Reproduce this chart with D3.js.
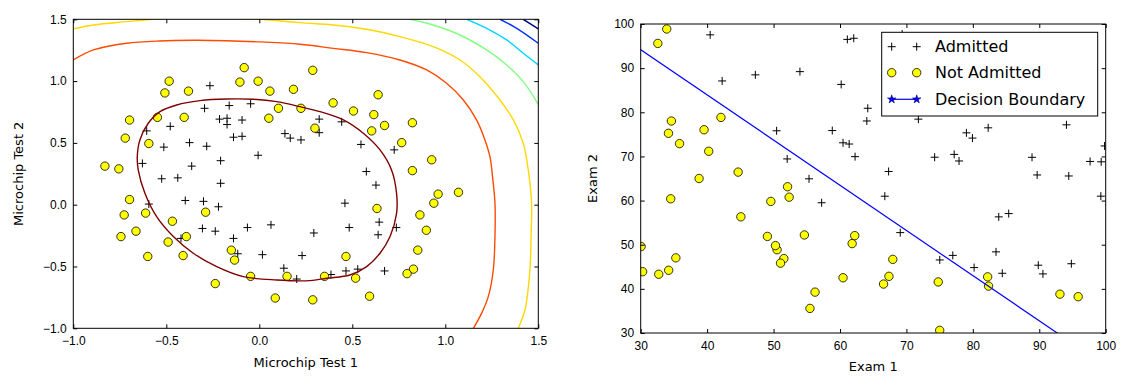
<!DOCTYPE html>
<html>
<head>
<meta charset="utf-8">
<script src="https://cdn.jsdelivr.net/npm/d3@7"></script>
<style>
  body { margin: 0; background: #fff; }
  svg { font-family: "DejaVu Sans", sans-serif; }
  .asse text { font-size: 12px; fill: #000; }
  .asse path, .asse line { stroke: #000; }
  .etichetta { font-size: 13px; fill: #000; }
  .legenda text { font-size: 16px; fill: #000; }
</style>
</head>
<body>
<script>
// ---- dati microchip (ex2data2) ----
const chipAmmessi = [
  [0.051267,0.69956],[-0.092742,0.68494],[-0.21371,0.69225],[-0.375,0.50219],[-0.51325,0.46564],
  [-0.52477,0.2098],[-0.39804,0.034357],[-0.30588,-0.19225],[0.016705,-0.40424],[0.13191,-0.51389],
  [0.38537,-0.56506],[0.52938,-0.5212],[0.63882,-0.24342],[0.73675,-0.18494],[0.54666,0.48757],
  [0.322,0.5826],[0.16647,0.53874],[-0.046659,0.81652],[-0.17339,0.69956],[-0.47869,0.63377],
  [-0.60541,0.59722],[-0.62846,0.33406],[-0.59389,0.005117],[-0.42108,-0.27266],[-0.11578,-0.39693],
  [0.20104,-0.60161],[0.46601,-0.53582],[0.67339,-0.53582],[-0.13882,0.54605],[-0.29435,0.77997],
  [-0.26555,0.96272],[-0.16187,0.8019],[-0.17339,0.64839],[-0.28283,0.47295],[-0.36348,0.31213],
  [-0.30012,0.027047],[-0.23675,-0.21418],[-0.06394,-0.18494],[0.062788,-0.16301],[0.22984,-0.41155],
  [0.2932,-0.2288],[0.48329,-0.18494],[0.64459,-0.14108],[0.46025,0.012427],[0.6273,0.15863],
  [0.57546,0.26827],[0.72523,0.44371],[0.22408,0.52412],[0.44297,0.67032],[0.322,0.69225],
  [0.13767,0.57529],[-0.0063364,0.39985],[-0.092742,0.55336],[-0.20795,0.35599],[-0.20795,0.17325],
  [-0.43836,0.21711],[-0.21947,-0.016813],[-0.13882,-0.27266]
];
const chipRespinti = [
  [0.051267,0.69956],
  [0.18376,0.93348],[0.22408,0.77997],[0.29896,0.61915],[0.50634,0.75804],[0.61578,0.7288],
  [0.60426,0.59722],[0.76555,0.50219],[0.92684,0.3633],[0.82316,0.27558],[0.96141,0.085526],
  [0.93836,0.012427],[0.86348,-0.082602],[0.89804,-0.20687],[0.85196,-0.36769],[0.82892,-0.5212],
  [0.79435,-0.55775],[0.59274,-0.7405],[0.51786,-0.5943],[0.46601,-0.41886],[0.35081,-0.57968],
  [0.28744,-0.76974],[0.085829,-0.75512],[0.14919,-0.57968],[-0.13306,-0.4481],[-0.40956,-0.41155],
  [-0.39228,-0.25804],[-0.74366,-0.25804],[-0.69758,0.041667],[-0.75518,0.2902],[-0.69758,0.68494],
  [-0.4038,0.70687],[-0.38076,0.91886],[-0.50749,0.90424],[-0.54781,0.70687],[0.10311,0.77997],
  [0.057028,0.91886],[-0.10426,0.99196],[-0.081221,1.1089],[0.28744,1.087],[0.39689,0.82383],
  [0.63882,0.88962],[0.82316,0.66301],[0.67339,0.64108],[1.0709,0.10015],[-0.046659,-0.57968],
  [-0.23675,-0.63816],[-0.15035,-0.36769],[-0.49021,-0.3019],[-0.46717,-0.13377],[-0.28859,-0.060673],
  [-0.61118,-0.067982],[-0.66302,-0.21418],[-0.59965,-0.41886],[-0.72638,-0.082602],[-0.83007,0.31213],
  [-0.72062,0.53874],[-0.59389,0.49488],[-0.48445,0.99927],[-0.0063364,0.99927],[0.63265,-0.030612]
];

// linee di livello (dalla piu' interna alla piu' esterna)
const confine = [
  [-0.656,0.389],[-0.642,0.524],[-0.597,0.659],[-0.534,0.753],[-0.444,0.807],[-0.319,0.842],
  [-0.176,0.855],[-0.032,0.853],[0.093,0.834],[0.219,0.793],[0.326,0.753],[0.452,0.686],
  [0.559,0.578],[0.649,0.443],[0.711,0.281],[0.738,0.092],[0.738,-0.070],[0.703,-0.258],
  [0.649,-0.393],[0.577,-0.501],[0.487,-0.569],[0.362,-0.595],[0.272,-0.614],[0.093,-0.609],
  [-0.086,-0.582],[-0.229,-0.501],[-0.355,-0.393],[-0.462,-0.258],[-0.552,-0.097],[-0.615,0.092],
  [-0.651,0.281]
];
const livelloArancio = [
  [-1.0,1.171],[-0.892,1.252],[-0.713,1.306],[-0.534,1.325],[-0.355,1.330],[-0.176,1.327],
  [0.004,1.317],[0.219,1.298],[0.398,1.265],[0.577,1.230],[0.756,1.171],[0.900,1.090],
  [1.007,0.982],[1.097,0.847],[1.168,0.686],[1.213,0.524],[1.240,0.389],[1.254,0.227],
  [1.267,0.011],[1.267,-0.258],[1.258,-0.528],[1.231,-0.744],[1.195,-0.879],[1.151,-1.0]
];
const livelloGiallo = [
  [-1.0,1.422],[-0.892,1.454],[-0.713,1.481],[-0.534,1.505],[-0.355,1.516],[-0.176,1.511],
  [0.004,1.500],[0.219,1.473],[0.398,1.454],[0.577,1.419],[0.756,1.360],[0.935,1.279],
  [1.079,1.171],[1.186,1.036],[1.294,0.847],[1.366,0.686],[1.419,0.497],[1.446,0.281],
  [1.464,0.011],[1.461,-0.258],[1.455,-0.528],[1.428,-0.852],[1.392,-1.0]
];
const livelloVerde = [[0.810,1.5],[0.935,1.454],[1.079,1.373],[1.222,1.252],[1.330,1.131],[1.419,0.996],[1.5,0.812]];
const livelloCiano = [[1.115,1.5],[1.222,1.427],[1.330,1.333],[1.419,1.225],[1.5,1.131]];
const livelloBlu = [[1.294,1.5],[1.384,1.427],[1.5,1.306]];
const livelloBluScuro = [[1.419,1.5],[1.5,1.422]];
const coloriLivelli = ["#800000", "#ff4a00", "#ffd800", "#80ff80", "#00d5ff", "#0030ff", "#000080"];

const tickChip = [-1.0, -0.5, 0.0, 0.5, 1.0, 1.5];

// ---- dati esami (ex2data1) ----
const esamiAmmessi = [
  [34.62,78.02],
  [60.18,86.31],[79.03,75.34],[61.11,96.51],[75.02,46.55],[76.10,87.42],[84.43,43.53],[82.31,76.48],
  [69.36,97.72],[53.97,89.21],[69.07,52.74],[70.66,92.93],[76.98,47.58],[89.68,65.80],[77.92,68.97],
  [62.27,69.95],[80.19,44.82],[61.38,72.81],[85.40,57.05],[52.05,69.43],[64.18,80.91],[83.90,56.31],
  [94.44,65.57],[77.19,70.46],[97.77,86.73],[62.07,96.77],[91.56,88.70],[79.94,74.16],[99.27,61.00],
  [90.55,43.39],[97.65,68.86],[74.25,69.82],[71.80,78.45],[75.40,85.76],[40.46,97.54],[80.28,92.12],
  [66.75,60.99],[64.04,78.03],[72.35,96.23],[60.46,73.09],[58.84,75.86],[99.83,72.37],[47.26,88.48],
  [50.46,75.81],[88.91,69.80],[94.83,45.69],[67.32,66.59],[57.24,59.51],[80.37,90.96],[68.47,85.59],
  [75.48,90.42],[78.64,96.65],[94.09,77.16],[90.45,87.51],[74.49,84.85],[89.85,45.36],[83.49,48.38],
  [42.26,87.10],[99.32,68.78],[55.34,64.93],[74.78,89.53]
];
const esamiRespinti = [
  [34.62,78.02],[30.29,43.89],[35.85,72.90],[45.08,56.32],[95.86,38.23],[75.01,30.60],[39.54,76.04],
  [67.95,46.68],[67.37,42.84],[50.53,48.86],[34.21,44.21],[93.11,38.80],[61.83,50.26],[38.79,65.00],
  [52.11,63.13],[40.24,71.17],[54.64,52.21],[33.92,98.87],[74.79,41.57],[34.18,75.24],[51.55,46.86],
  [82.37,40.62],[51.05,45.82],[62.22,52.06],[34.52,60.40],[50.29,49.80],[49.59,59.81],[32.58,95.60],
  [35.29,47.02],[56.25,39.26],[30.06,49.59],[44.67,66.45],[66.56,41.09],[49.07,51.88],[32.72,43.31],
  [60.46,42.51],[82.23,42.72],[42.08,78.84],[52.35,60.77],[55.48,35.57]
];
const lineaConfine = [[28.06,96.17],[101.83,20.65]];
const tickEsami = [30, 40, 50, 60, 70, 80, 90, 100];
const vociLegenda = ["Admitted", "Not Admitted", "Decision Boundary"];

// ---- spazio grafico ----
const svg = d3.select("body").append("svg")
  .attr("width", 1122)
  .attr("height", 387);

const sinistra = { x0: 73.3, x1: 538.3, y0: 19.3, y1: 328.3 };
const destra = { x0: 640.7, x1: 1105.7, y0: 24, y1: 333 };

const meno = d => d3.format(".1f")(d).replace("-", "\u2212");

function croce(g, dati, sx, sy) {
  g.selectAll(null).data(dati).enter().append("path")
    .attr("d", d => `M${sx(d[0]) - 4},${sy(d[1])}h8M${sx(d[0])},${sy(d[1]) - 4}v8`)
    .attr("stroke", "#000").attr("stroke-width", 1).attr("fill", "none");
}
function cerchi(g, dati, sx, sy) {
  g.selectAll(null).data(dati).enter().append("circle")
    .attr("cx", d => sx(d[0])).attr("cy", d => sy(d[1]))
    .attr("r", 4.2)
    .attr("fill", "#ffff00").attr("stroke", "#000").attr("stroke-width", 0.8);
}

function assi(p, sx, sy, valoriX, valoriY, formato, padX, padY) {
  svg.append("g").attr("class", "asse")
    .attr("transform", `translate(0,${p.y1})`)
    .call(d3.axisBottom(sx).tickValues(valoriX).tickFormat(formato).tickSizeInner(-4).tickSizeOuter(0).tickPadding(padX));
  svg.append("g").attr("class", "asse")
    .attr("transform", `translate(0,${p.y0})`)
    .call(d3.axisTop(sx).tickValues(valoriX).tickFormat("").tickSizeInner(-4).tickSizeOuter(0));
  svg.append("g").attr("class", "asse")
    .attr("transform", `translate(${p.x0},0)`)
    .call(d3.axisLeft(sy).tickValues(valoriY).tickFormat(formato).tickSizeInner(-4).tickSizeOuter(0).tickPadding(padY));
  svg.append("g").attr("class", "asse")
    .attr("transform", `translate(${p.x1},0)`)
    .call(d3.axisRight(sy).tickValues(valoriY).tickFormat("").tickSizeInner(-4).tickSizeOuter(0));
  svg.selectAll(".asse .domain").remove();
  svg.append("rect")
    .attr("x", p.x0).attr("y", p.y0)
    .attr("width", p.x1 - p.x0).attr("height", p.y1 - p.y0)
    .attr("fill", "none").attr("stroke", "#000").attr("stroke-width", 1);
}

// ---- grafico sinistro: microchip ----
const scalaX1 = d3.scaleLinear().domain([-1, 1.5]).range([sinistra.x0, sinistra.x1]);
const scalaY1 = d3.scaleLinear().domain([-1, 1.5]).range([sinistra.y1, sinistra.y0]);

svg.append("clipPath").attr("id", "clipSx").append("rect")
  .attr("x", sinistra.x0).attr("y", sinistra.y0)
  .attr("width", sinistra.x1 - sinistra.x0).attr("height", sinistra.y1 - sinistra.y0);

const gSx = svg.append("g").attr("clip-path", "url(#clipSx)");

const lineaLivello = d3.line()
  .x(d => scalaX1(d[0])).y(d => scalaY1(d[1]))
  .curve(d3.curveCatmullRom);

croce(gSx, chipAmmessi, scalaX1, scalaY1);
cerchi(gSx, chipRespinti, scalaX1, scalaY1);

gSx.append("path").datum(confine)
  .attr("d", d3.line().x(d => scalaX1(d[0])).y(d => scalaY1(d[1])).curve(d3.curveCatmullRomClosed))
  .attr("fill", "none").attr("stroke", coloriLivelli[0]).attr("stroke-width", 1.4);

[livelloArancio, livelloGiallo, livelloVerde, livelloCiano, livelloBlu, livelloBluScuro].forEach((liv, i) => {
  gSx.append("path").datum(liv)
    .attr("d", lineaLivello)
    .attr("fill", "none").attr("stroke", coloriLivelli[i + 1]).attr("stroke-width", 1.4);
});

assi(sinistra, scalaX1, scalaY1, tickChip, tickChip, meno, 8, 6.5);

svg.append("text").attr("class", "etichetta")
  .attr("x", (sinistra.x0 + sinistra.x1) / 2).attr("y", 366.5)
  .attr("text-anchor", "middle").text("Microchip Test 1");
svg.append("text").attr("class", "etichetta")
  .attr("transform", `translate(22.5,${(sinistra.y0 + sinistra.y1) / 2}) rotate(-90)`)
  .attr("text-anchor", "middle").text("Microchip Test 2");

// ---- grafico destro: esami ----
const scalaX2 = d3.scaleLinear().domain([30, 100]).range([destra.x0, destra.x1]);
const scalaY2 = d3.scaleLinear().domain([30, 100]).range([destra.y1, destra.y0]);

svg.append("clipPath").attr("id", "clipDx").append("rect")
  .attr("x", destra.x0).attr("y", destra.y0)
  .attr("width", destra.x1 - destra.x0).attr("height", destra.y1 - destra.y0);

const gDx = svg.append("g").attr("clip-path", "url(#clipDx)");

croce(gDx, esamiAmmessi, scalaX2, scalaY2);
cerchi(gDx, esamiRespinti, scalaX2, scalaY2);

gDx.append("path").datum(lineaConfine)
  .attr("d", d3.line().x(d => scalaX2(d[0])).y(d => scalaY2(d[1])))
  .attr("fill", "none").attr("stroke", "#0000ff").attr("stroke-width", 1.2);

assi(destra, scalaX2, scalaY2, tickEsami, tickEsami, d3.format("d"), 8, 6.5);

svg.append("text").attr("class", "etichetta")
  .attr("x", (destra.x0 + destra.x1) / 2).attr("y", 371)
  .attr("text-anchor", "middle").text("Exam 1");
svg.append("text").attr("class", "etichetta")
  .attr("transform", `translate(597,${(destra.y0 + destra.y1) / 2}) rotate(-90)`)
  .attr("text-anchor", "middle").text("Exam 2");

// ---- legenda ----
const legenda = svg.append("g").attr("class", "legenda");
legenda.append("rect")
  .attr("x", 881.7).attr("y", 32.3).attr("width", 216).attr("height", 83.7)
  .attr("fill", "#fff").attr("stroke", "#000").attr("stroke-width", 1);

const righe = [46.7, 72.7, 99.3];
const marcatoriX = [891.7, 916.7];
vociLegenda.forEach((voce, i) => {
  const y = righe[i];
  if (i === 0) {
    marcatoriX.forEach(x => legenda.append("path")
      .attr("d", `M${x - 4},${y}h8M${x},${y - 4}v8`)
      .attr("stroke", "#000").attr("fill", "none"));
  } else if (i === 1) {
    marcatoriX.forEach(x => legenda.append("circle")
      .attr("cx", x).attr("cy", y).attr("r", 4.2)
      .attr("fill", "#ffff00").attr("stroke", "#000").attr("stroke-width", 0.8));
  } else {
    legenda.append("line")
      .attr("x1", marcatoriX[0]).attr("x2", marcatoriX[1]).attr("y1", y).attr("y2", y)
      .attr("stroke", "#0000ff").attr("stroke-width", 1.2);
    marcatoriX.forEach(x => legenda.append("path")
      .attr("transform", `translate(${x},${y})`)
      .attr("d", d3.symbol(d3.symbolStar, 22)())
      .attr("fill", "#0000ff").attr("stroke", "#000080").attr("stroke-width", 0.6));
  }
  legenda.append("text")
    .attr("x", 935).attr("y", y).attr("dy", "0.36em")
    .text(voce);
});
</script>
</body>
</html>
